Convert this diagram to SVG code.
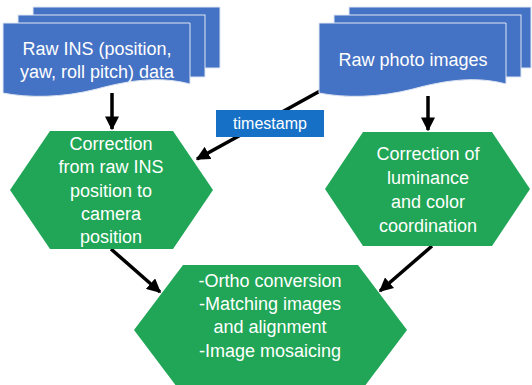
<svg xmlns="http://www.w3.org/2000/svg" width="532" height="385" viewBox="0 0 532 385">
<defs>
<style>
.sheet{fill:#4472c4;stroke:#dfe6f3;stroke-width:1}
.hex{fill:#20a656}
.t{font-family:"Liberation Sans",Arial,sans-serif;font-size:18px;fill:#ffffff;text-anchor:middle}
.ts{font-family:"Liberation Sans",Arial,sans-serif;font-size:16px;fill:#ffffff;text-anchor:middle}
.con{stroke:#000;stroke-width:3.5;fill:none;marker-end:url(#ah)}
</style>
<marker id="ah" viewBox="0 0 10 10" refX="9" refY="5" markerWidth="4" markerHeight="4" orient="auto" markerUnits="strokeWidth">
<path d="M0,0 L10,5 L0,10 Z" fill="#000"/>
</marker>
</defs>
<rect width="532" height="385" fill="#ffffff"/>

<g id="connectors">
<line class="con" x1="112" y1="93" x2="112" y2="129"/>
<line class="con" x1="428" y1="96" x2="428" y2="130"/>
<line class="con" x1="320" y1="91" x2="197" y2="159"/>
<line class="con" x1="111" y1="249" x2="160" y2="292"/>
<line class="con" x1="432" y1="246" x2="380" y2="291"/>
</g>

<g id="raw-ins">
<rect class="sheet" x="33" y="7" width="187" height="61"/>
<rect class="sheet" x="18" y="15" width="187" height="62"/>
<path class="sheet" d="M3,23 H190 V84 C160,76 130,80 97,89 C62,98 28,98 3,93 Z"/>
<text class="t" x="97" y="55">Raw INS (position,</text>
<text class="t" x="97" y="78">yaw, roll pitch) data</text>
</g>

<g id="raw-photo">
<rect class="sheet" x="349" y="7" width="182" height="61"/>
<rect class="sheet" x="334" y="15" width="187" height="62"/>
<path class="sheet" d="M319,23 H506 V84 C476,76 446,80 413,89 C378,98 344,98 319,93 Z"/>
<text class="t" x="413" y="66">Raw photo images</text>
</g>

<g id="timestamp">
<rect x="216" y="110" width="108" height="27" fill="#1570c6"/>
<text class="ts" x="270" y="129">timestamp</text>
</g>

<g id="correction-ins">
<polygon class="hex" points="10,190 50,131 173,131 213,190 173,249 50,249"/>
<text class="t" x="111" y="150">Correction</text>
<text class="t" x="111" y="173">from raw INS</text>
<text class="t" x="111" y="197">position to</text>
<text class="t" x="111" y="220">camera</text>
<text class="t" x="111" y="243">position</text>
</g>

<g id="correction-lum">
<polygon class="hex" points="325,189 363,132 492,132 530,189 492,246 363,246"/>
<text class="t" x="428" y="160">Correction of</text>
<text class="t" x="428" y="184">luminance</text>
<text class="t" x="428" y="208">and color</text>
<text class="t" x="428" y="232">coordination</text>
</g>

<g id="ortho">
<polygon class="hex" points="134,330 183,265 358,265 407,330 358,395 183,395"/>
<text class="t" x="270" y="287">-Ortho conversion</text>
<text class="t" x="270" y="310">-Matching images</text>
<text class="t" x="270" y="333">and alignment</text>
<text class="t" x="270" y="357">-Image mosaicing</text>
</g>
</svg>
